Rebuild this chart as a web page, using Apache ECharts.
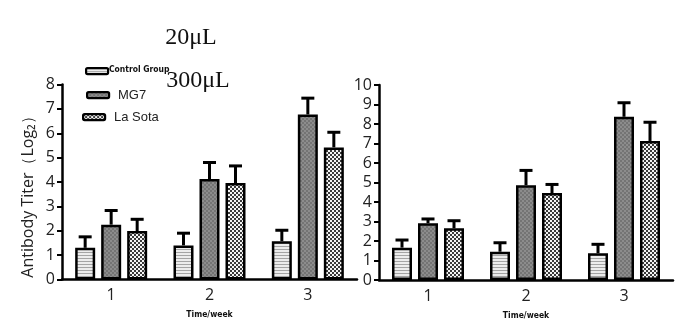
<!DOCTYPE html>
<html><head><meta charset="utf-8">
<script src="https://cdn.jsdelivr.net/npm/echarts@6/dist/echarts.min.js"></script>
<style>html,body{margin:0;padding:0;background:#fff}#c{width:700px;height:332px}</style>
</head><body><div id="c"></div>
<script>
// ---- data ----
var weeks = ['1', '2', '3'];
var seriesNames = ['Control Group', 'MG7', 'La Sota'];
var yTicksLeft = [0, 1, 2, 3, 4, 5, 6, 7, 8];
var yTicksRight = [0, 1, 2, 3, 4, 5, 6, 7, 8, 9, 10];
// 20 μL (left panel)
var ctrl20 = [1.30, 1.40, 1.57];
var ctrl20Err = [0.45, 0.50, 0.45];
var mg720 = [2.25, 4.12, 6.77];
var mg720Err = [0.58, 0.68, 0.67];
var laSota20 = [1.99, 3.96, 5.42];
var laSota20Err = [0.48, 0.70, 0.62];
// 300 μL (right panel)
var ctrl300 = [1.66, 1.45, 1.37];
var ctrl300Err = [0.39, 0.46, 0.46];
var mg7300 = [2.91, 4.86, 8.37];
var mg7300Err = [0.22, 0.76, 0.72];
var laSota300 = [2.65, 4.46, 7.13];
var laSota300Err = [0.39, 0.44, 0.96];

// ---- patterns ----
function makePattern(w, h, draw) {
  var c = document.createElement('canvas'); c.width = w; c.height = h;
  var g = c.getContext('2d'); draw(g); return c;
}
var patCtrl = makePattern(4, 3, function (g) {
  g.fillStyle = '#ececec'; g.fillRect(0, 0, 4, 3);
  g.fillStyle = '#a4a4a4'; g.fillRect(0, 0, 4, 1);
});
var patMG7 = makePattern(4, 4, function (g) {
  g.fillStyle = '#8c8c8c'; g.fillRect(0, 0, 4, 4);
  g.fillStyle = '#747474'; g.fillRect(0, 0, 2, 2); g.fillRect(2, 2, 2, 2);
});
var patLa = makePattern(4, 4, function (g) {
  g.fillStyle = '#f4f4f4'; g.fillRect(0, 0, 4, 4);
  g.fillStyle = '#3a3a3a'; g.fillRect(0, 0, 2, 2); g.fillRect(2, 2, 2, 2);
});
var fills = [patCtrl, patMG7, patLa].map(function (p) { return { image: p, repeat: 'repeat' }; });

var BAR_W = 20, GAP = 0.3;
var tickFont = { fontFamily: 'Open Sans', fontSize: 16, color: '#222' };

function axisX(gi) {
  return {
    type: 'category', gridIndex: gi, data: weeks,
    name: 'Time/week', nameLocation: 'middle', nameGap: 31,
    nameTextStyle: { fontFamily: 'DejaVu Sans Condensed', fontSize: 8.5, fontWeight: 'bold', color: '#111' },
    axisLine: { lineStyle: { color: '#000', width: 2.5 } },
    axisTick: { alignWithLabel: true, length: 5, lineStyle: { color: '#000', width: 2 } },
    axisLabel: Object.assign({ margin: 8 }, tickFont)
  };
}
function axisY(gi, max) {
  return {
    type: 'value', gridIndex: gi, min: 0, max: max, interval: 1,
    splitLine: { show: false },
    axisLine: { show: true, lineStyle: { color: '#000', width: 2.5 } },
    axisTick: { show: true, length: 5, lineStyle: { color: '#000', width: 2 } },
    axisLabel: Object.assign({ margin: 7 }, tickFont)
  };
}

function barSeries(gi, idx, vals) {
  return {
    type: 'bar', name: seriesNames[idx], xAxisIndex: gi, yAxisIndex: gi,
    data: vals, barWidth: BAR_W, barGap: (GAP * 100) + '%', z: 3,
    itemStyle: { color: fills[idx], borderColor: '#000', borderWidth: 2.5 }
  };
}
function errSeries(gi, idx, vals, errs) {
  var offset = (idx - 1) * BAR_W * (1 + GAP);
  return {
    type: 'custom', xAxisIndex: gi, yAxisIndex: gi, z: 2,
    data: vals.map(function (v, i) { return [i, v, errs[i]]; }),
    renderItem: function (params, api) {
      var b = api.coord([api.value(0), api.value(1)]);
      var t = api.coord([api.value(0), api.value(1) + api.value(2)]);
      var x = b[0] + offset;
      var st = { stroke: '#000', lineWidth: 3 };
      return { type: 'group', children: [
        { type: 'line', shape: { x1: x, y1: b[1], x2: x, y2: t[1] }, style: st },
        { type: 'line', shape: { x1: x - 6.5, y1: t[1], x2: x + 6.5, y2: t[1] }, style: st }
      ] };
    }
  };
}

var leftSets = [[ctrl20, ctrl20Err], [mg720, mg720Err], [laSota20, laSota20Err]];
var rightSets = [[ctrl300, ctrl300Err], [mg7300, mg7300Err], [laSota300, laSota300Err]];
var series = [];
leftSets.forEach(function (s, i) { series.push(barSeries(0, i, s[0])); });
rightSets.forEach(function (s, i) { series.push(barSeries(1, i, s[0])); });
leftSets.forEach(function (s, i) { series.push(errSeries(0, i, s[0], s[1])); });
rightSets.forEach(function (s, i) { series.push(errSeries(1, i, s[0], s[1])); });

function swatch(x, y, idx) {
  return { type: 'rect', left: x, top: y, shape: { width: 22, height: 6, r: 1.5 },
    style: { fill: fills[idx], stroke: '#000', lineWidth: 2.2 }, z: 10 };
}

var chart = echarts.init(document.getElementById('c'), null, { renderer: 'canvas' });
chart.setOption({
  animation: false,
  backgroundColor: '#fff',
  grid: [
    { left: 62, top: 84.5, width: 295, height: 195 },
    { left: 379, top: 85, width: 294, height: 195 }
  ],
  xAxis: [axisX(0), axisX(1)],
  yAxis: [axisY(0, yTicksLeft[yTicksLeft.length - 1]), axisY(1, yTicksRight[yTicksRight.length - 1])],
  series: series,
  graphic: [
    { type: 'text', x: 191, y: 38, style: { text: '20μL', fontFamily: 'Liberation Serif', fontSize: 24, fill: '#111', align: 'center', verticalAlign: 'middle' } },
    { type: 'text', x: 198, y: 81, style: { text: '300μL', fontFamily: 'Liberation Serif', fontSize: 24, fill: '#111', align: 'center', verticalAlign: 'middle' } },
    { type: 'text', x: 28, y: 193, rotation: Math.PI / 2, style: { text: 'Antibody Titer（Log₂）', fontFamily: 'Open Sans', fontSize: 16, fill: '#222', align: 'center', verticalAlign: 'middle' } },
    swatch(85, 67, 0),
    swatch(86, 91, 1),
    swatch(82, 113, 2),
    { type: 'text', x: 109, y: 70, style: { text: seriesNames[0], fontFamily: 'DejaVu Sans Condensed', fontSize: 8.5, fontWeight: 'bold', fill: '#111', verticalAlign: 'middle' } },
    { type: 'text', x: 118, y: 95, style: { text: seriesNames[1], fontFamily: 'Liberation Sans', fontSize: 13, fill: '#222', verticalAlign: 'middle' } },
    { type: 'text', x: 114, y: 117, style: { text: seriesNames[2], fontFamily: 'Liberation Sans', fontSize: 13, fill: '#222', verticalAlign: 'middle' } }
  ]
});
</script></body></html>
